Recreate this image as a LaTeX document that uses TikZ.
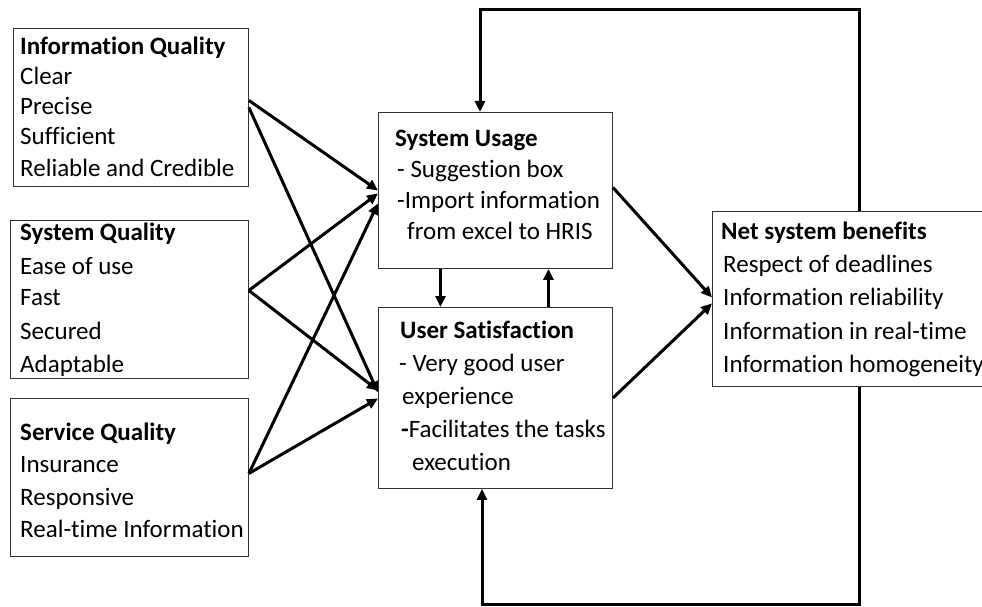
\documentclass[tikz,border=0pt]{standalone}
\usepackage{fontspec}
\setmainfont{Carlito}[Ligatures={NoCommon}]
\usetikzlibrary{arrows.meta,calc}
\newcommand\tline[5]{\node[#1] (#2) at (#3,#4+7) {#5};}
\begin{document}
\begin{tikzpicture}[x=1pt,y=-1pt,
  box/.style={draw=black!80, line width=0.9pt, anchor=north west, inner sep=0pt},
  txt/.style={anchor=base west, inner sep=0pt, font=\fontsize{25}{30}\selectfont},
  ttl/.style={anchor=base west, inner sep=0pt, font=\fontsize{25}{30}\selectfont\bfseries},
  arr/.style={line width=3pt, -{Triangle[length=11pt,width=10pt]}}]
\useasboundingbox (0,0) rectangle (982,607);
\fill[white] (0,0) rectangle (982,607);

% boxes
\node[box, minimum width=235pt, minimum height=158pt] (iq) at (13,28) {};
\node[box, minimum width=238pt, minimum height=158pt] (sq) at (10,220) {};
\node[box, minimum width=238pt, minimum height=158pt] (svq) at (10,398) {};
\node[box, minimum width=234pt, minimum height=156pt] (su) at (378,112) {};
\node[box, minimum width=234pt, minimum height=181pt] (us) at (378,307) {};
\node[box, minimum width=283pt, minimum height=175pt] (net) at (712,211) {};

% texts
\tline{ttl}{iq0}{20}{48}{Information Quality}
\tline{txt}{iq1}{20}{78}{Clear}
\tline{txt}{iq2}{20}{108}{Precise}
\tline{txt}{iq3}{20}{138}{Sufficient}
\tline{txt}{iq4}{20}{169}{Reliable and Credible}

\tline{ttl}{sq0}{20}{233}{System Quality}
\tline{txt}{sq1}{20}{267}{Ease of use}
\tline{txt}{sq2}{20}{298}{Fast}
\tline{txt}{sq3}{20}{332}{Secured}
\tline{txt}{sq4}{20}{365}{Adaptable}

\tline{ttl}{svq0}{20}{433}{Service Quality}
\tline{txt}{svq1}{20}{465}{Insurance}
\tline{txt}{svq2}{20}{498}{Responsive}
\tline{txt}{svq3}{20}{530}{Real-time Information}

\tline{ttl}{su0}{395}{139.5}{System Usage}
\tline{txt}{su1}{397}{170.5}{- Suggestion box}
\tline{txt}{su2}{397}{201.5}{-Import information}
\tline{txt}{su3}{407}{232.5}{from excel to HRIS}

\tline{ttl}{us0}{400}{331}{User Satisfaction}
\tline{txt}{us1}{399}{364}{- Very good user}
\tline{txt}{us2}{402}{397}{experience}
\tline{txt}{us3}{401}{430}{\textbf{-}Facilitates the tasks}
\tline{txt}{us4}{412}{463}{execution}

\tline{ttl}{net0}{721}{232}{Net system benefits}
\tline{txt}{net1}{723}{265}{Respect of deadlines}
\tline{txt}{net2}{723}{298}{Information reliability}
\tline{txt}{net3}{723}{332}{Information in real-time}
\tline{txt}{net4}{723}{365}{Information homogeneity}

% arrows from quality boxes
\draw[arr] ([yshift=7pt]iq.east) -- (su.west);
\draw[arr] (iq.east) -- ([yshift=5.5pt]us.west);
\draw[arr] ([yshift=9pt]sq.east) -- ([yshift=-3pt]su.west);
\draw[arr] ([yshift=9pt]sq.east) -- ([yshift=7.5pt]us.west);
\draw[arr] ([yshift=4pt]svq.east) -- ([yshift=-13pt]su.west);
\draw[arr] ([yshift=4pt]svq.east) -- ([yshift=-0.5pt]us.west);

% to net benefits
\draw[arr] ([yshift=3pt]su.east) -- ([yshift=1.5pt]net.west);
\draw[arr] (us.east) -- ([yshift=-4.5pt]net.west);

% between SU and US
\draw[arr] ([xshift=-55pt]su.south) -- ([xshift=-55pt]us.north);
\draw[arr] ([xshift=53pt]us.north) -- ([xshift=53pt]su.south);

% feedback loops
\coordinate (tr) at (859,10);
\coordinate (tl) at (480,10);
\draw[arr] (net.north -| tr) -- (tr) -- (tl) -- (tl |- su.north);
\coordinate (br) at (859,604);
\coordinate (bl) at (482,604);
\draw[arr] (net.south -| br) -- (br) -- (bl) -- (bl |- us.south);
\end{tikzpicture}
\end{document}
